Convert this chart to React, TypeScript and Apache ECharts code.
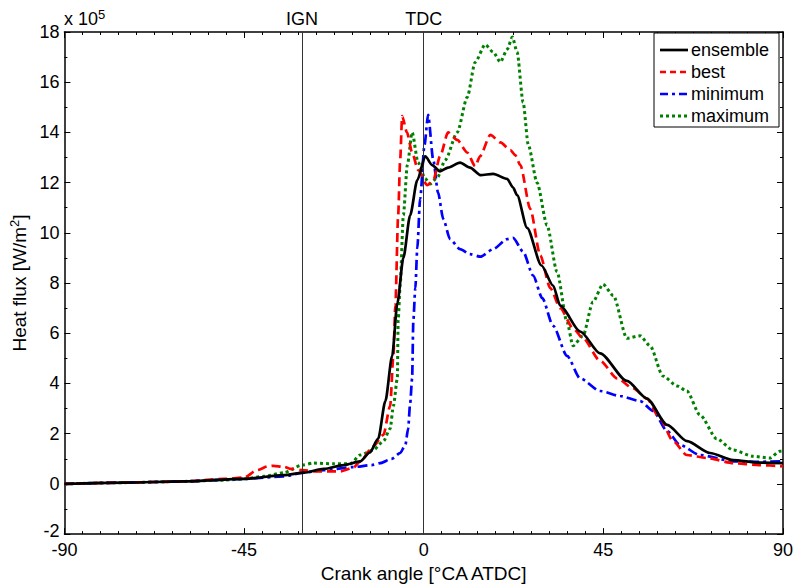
import React, { useEffect, useRef } from "react";
import * as echarts from "echarts";

// Values in units of 1e5 W/m^2
const ensembleX = [-90, -75, -60, -45, -35, -30, -25, -20, -15.9, -13.5, -11.4, -9.6, -7.9, -6.6, -5.1, -3.4, -1.6, 0.4, 2.1, 4.1, 6.1, 9.1, 11.6, 14.2, 17.4, 20.9, 22.4, 23.4, 25.9, 29.5, 32.4, 34.2, 39.2, 44.2, 50.9, 55.9, 61, 66, 71.7, 77.5, 84, 90];
const ensembleY = [0, 0.05, 0.1, 0.2, 0.35, 0.45, 0.6, 0.75, 0.9, 1.25, 1.8, 3.3, 5.1, 7.2, 9.0, 10.7, 12.1, 13.05, 12.7, 12.45, 12.6, 12.8, 12.6, 12.3, 12.35, 12.15, 11.8, 11.5, 10.2, 8.7, 7.9, 7.1, 6.07, 5.2, 4.1, 3.4, 2.35, 1.7, 1.23, 0.95, 0.85, 0.83];

const bestX = [-90, -75, -60, -50, -45, -41.7, -39, -37.7, -35, -33.4, -30.4, -27, -24.2, -20.9, -17.6, -15.9, -12.6, -10.1, -8.4, -7.6, -7.1, -6.4, -5.9, -5.4, -4.2, -2.9, -1.4, 0.9, 2.4, 4.1, 6.1, 8.4, 10.9, 12.9, 14.1, 16.7, 19.2, 21.7, 22.9, 24.2, 26.7, 29.2, 31.7, 34.2, 37.4, 39.9, 44.2, 48.5, 52.5, 55.9, 59.2, 62.5, 65.9, 71, 77.5, 84, 90];
const bestY = [0, 0.05, 0.1, 0.2, 0.25, 0.55, 0.7, 0.72, 0.68, 0.6, 0.55, 0.5, 0.5, 0.5, 0.65, 0.9, 1.5, 1.95, 3.1, 5.1, 7.1, 10.7, 12.9, 14.65, 14.0, 13.2, 12.5, 11.9, 12.1, 13.05, 14.0, 13.7, 13.2, 12.65, 13.05, 13.9, 13.6, 13.3, 13.1, 12.7, 10.95, 9.1, 7.8, 7.0, 6.2, 5.8, 4.9, 4.2, 3.8, 3.4, 2.6, 1.7, 1.15, 1.03, 0.83, 0.75, 0.7];

const minimumX = [-90, -75, -60, -45, -35, -30.4, -25, -17.6, -13, -10.9, -8, -5.9, -4.6, -3.9, -3.4, -2.9, -2.6, -2.1, -1.6, -0.9, 0.2, 1.1, 2.4, 3.6, 4.9, 6.6, 9.1, 11.6, 14.2, 17.4, 20.9, 22.4, 24.9, 27.4, 29.7, 32.4, 35.9, 39.2, 44.2, 49.2, 54.2, 57.5, 61, 64.2, 69.2, 77.5, 84, 90];
const minimumY = [0, 0.05, 0.1, 0.2, 0.3, 0.44, 0.55, 0.67, 0.75, 0.83, 1.0, 1.23, 1.55, 2.2, 3.2, 4.2, 6.5, 7.8, 9.4, 11.35, 13.5, 14.7, 12.9, 11.6, 10.55, 9.75, 9.35, 9.15, 9.05, 9.35, 9.75, 9.8, 9.25, 8.3, 7.4, 6.3, 5.1, 4.2, 3.7, 3.5, 3.3, 2.9, 2.1, 1.55, 1.15, 0.9, 0.88, 0.9];

const maximumX = [-90, -75, -60, -50, -45, -40, -35, -30.4, -27.6, -22.6, -18.4, -15.9, -12.6, -10.1, -8.4, -7.6, -6.6, -6.4, -5.9, -5.1, -4.1, -2.9, -1.4, 0.4, 1.6, 3.4, 5.4, 8.4, 10.9, 12.9, 15.4, 17.4, 19.2, 20.9, 22.2, 23.4, 24.9, 26.2, 28.4, 30.9, 33.4, 35.9, 37.4, 39.9, 42.4, 44.9, 47.5, 50.9, 54.2, 56.7, 59.9, 63.5, 65.9, 69.2, 73.4, 77.5, 82.5, 86.7, 89.2, 90];
const maximumY = [0, 0.05, 0.1, 0.15, 0.2, 0.3, 0.45, 0.75, 0.83, 0.8, 0.8, 1.15, 1.35, 1.7, 2.2, 3.1, 4.2, 6.5, 7.9, 10.7, 12.7, 14.0, 12.8, 12.15, 11.95, 12.2, 12.9, 14.0, 15.4, 16.8, 17.5, 17.2, 16.8, 17.3, 17.8, 17.2, 15.2, 13.5, 12.0, 10.3, 8.45, 6.45, 5.5, 5.9, 7.25, 7.95, 7.5, 5.8, 5.9, 5.5, 4.3, 3.9, 3.7, 2.75, 1.8, 1.35, 1.1, 1.03, 1.3, 1.3];

const seriesNames = ["ensemble", "best", "minimum", "maximum"];
const seriesColors = ["#000000", "#ff0000", "#0000ff", "#008000"];
const markers = [
  { name: "IGN", x: -30.5 },
  { name: "TDC", x: 0 },
];

const pair = (xs: number[], ys: number[]) => xs.map((x, i) => [x, ys[i]]);

const FONT = "Liberation Sans, Arial, Helvetica, sans-serif";

const dashes: (number[] | null)[] = [null, [9, 5], [10, 4, 3, 4], [3, 3]];
const legendDashes: (number[] | null)[] = [null, [6, 4], [8, 4, 3, 4], [3, 3]];
const widths = [2.7, 2.7, 2.7, 3];

export default function App() {
  const ref = useRef<HTMLDivElement>(null);
  useEffect(() => {
    if (!ref.current) return;
    const chart = echarts.init(ref.current, null, { renderer: "svg" });
    const tickBase = {
      axisTick: { show: true, inside: true, length: 6, lineStyle: { color: "#000", width: 1 } },
      minorTick: { show: true, length: 3, lineStyle: { color: "#000", width: 1 } },
      axisLine: { show: true, onZero: false, lineStyle: { color: "#000", width: 1.5 } },
      splitLine: { show: false },
    };
    const xBase = { type: "value", min: -90, max: 90, interval: 45, ...tickBase, minorTick: { ...tickBase.minorTick, splitNumber: 10 } };
    const yBase = { type: "value", min: -2, max: 18, interval: 2, ...tickBase, minorTick: { ...tickBase.minorTick, splitNumber: 2 } };
    const lineCommon = { type: "line", showSymbol: false, symbol: "none", smooth: 0.25, smoothMonotone: "x", xAxisIndex: 0, yAxisIndex: 0 };

    // legend drawn as graphic elements
    const lgLeft = 654, lgTop = 33, lgW = 125, lgH = 94, rowH = 22;
    const legendEls: any[] = [
      { type: "rect", shape: { x: lgLeft, y: lgTop, width: lgW, height: lgH }, style: { fill: "#fff", stroke: "#000", lineWidth: 1 }, z: 100 },
    ];
    seriesNames.forEach((n, i) => {
      const cy = lgTop + 17 + i * rowH;
      legendEls.push({
        type: "line",
        z: 101,
        shape: { x1: lgLeft + 6, y1: cy, x2: lgLeft + 34, y2: cy },
        style: { stroke: seriesColors[i], lineWidth: widths[i], lineDash: legendDashes[i] || undefined },
      });
      legendEls.push({
        type: "text",
        z: 101,
        x: lgLeft + 37,
        y: cy,
        style: { text: n, fontSize: 18, fill: "#000", fontFamily: FONT, textVerticalAlign: "middle", verticalAlign: "middle" },
      });
    });

    chart.setOption({
      animation: false,
      textStyle: { fontFamily: FONT },
      grid: { left: 63.5, right: 12, top: 32, bottom: 51 },
      xAxis: [
        {
          ...xBase,
          position: "bottom",
          axisLabel: { fontSize: 18, lineHeight: 18, color: "#000", margin: 7, fontFamily: FONT },
          name: "Crank angle [°CA ATDC]",
          nameLocation: "middle",
          nameGap: 20,
          nameTextStyle: { fontSize: 19, color: "#000", fontFamily: FONT },
        },
        { ...xBase, position: "top", axisLabel: { show: false } },
      ],
      yAxis: [
        {
          ...yBase,
          position: "left",
          axisLabel: {
            fontSize: 18,
            lineHeight: 10,
            color: "#000",
            margin: 5,
            fontFamily: FONT,
            formatter: (v: number) => (v === -2 ? "{low|-2}" : String(v)),
            rich: { low: { fontSize: 18, lineHeight: 10, padding: [0, 0, 7, 0], color: "#000", fontFamily: FONT } },
          },
          name: "Heat flux [W/m{sup|2}]",
          nameLocation: "middle",
          nameRotate: 90,
          nameGap: 25,
          nameTextStyle: {
            fontSize: 19,
            color: "#000",
            fontFamily: FONT,
            rich: { sup: { fontSize: 13, verticalAlign: "top", padding: [0, 0, 9, 0], color: "#000", fontFamily: FONT } },
          },
        },
        { ...yBase, position: "right", axisLabel: { show: false } },
      ],
      graphic: [
        {
          type: "text",
          x: 64,
          y: 28,
          style: { text: "x 10", fontSize: 18, fill: "#000", fontFamily: FONT, textBaseline: "alphabetic", verticalAlign: "bottom" },
        },
        {
          type: "text",
          x: 98,
          y: 21,
          style: { text: "5", fontSize: 13, fill: "#000", fontFamily: FONT, textBaseline: "alphabetic", verticalAlign: "bottom" },
        },
        ...legendEls,
      ],
      series: [
        {
          ...lineCommon,
          name: seriesNames[0],
          z: 5,
          data: pair(ensembleX, ensembleY),
          lineStyle: { color: seriesColors[0], width: widths[0], type: "solid" },
          markLine: {
            silent: true,
            symbol: "none",
            animation: false,
            lineStyle: { color: "#333", width: 1, type: "solid" },
            label: { show: true, position: "end", formatter: "{b}", fontSize: 18, color: "#000", fontFamily: FONT, distance: 4 },
            data: markers.map((m) => ({ name: m.name, xAxis: m.x })),
          },
        },
        {
          ...lineCommon,
          name: seriesNames[1],
          z: 4,
          data: pair(bestX, bestY),
          lineStyle: { color: seriesColors[1], width: widths[1], type: dashes[1] },
        },
        {
          ...lineCommon,
          name: seriesNames[2],
          z: 3,
          data: pair(minimumX, minimumY),
          lineStyle: { color: seriesColors[2], width: widths[2], type: dashes[2] },
        },
        {
          ...lineCommon,
          name: seriesNames[3],
          z: 2,
          data: pair(maximumX, maximumY),
          lineStyle: { color: seriesColors[3], width: widths[3], type: dashes[3] },
        },
      ],
    });
    return () => chart.dispose();
  }, []);
  return <div ref={ref} style={{ width: 796, height: 588, position: "absolute", left: 0, top: 0, background: "#fff" }} />;
}
